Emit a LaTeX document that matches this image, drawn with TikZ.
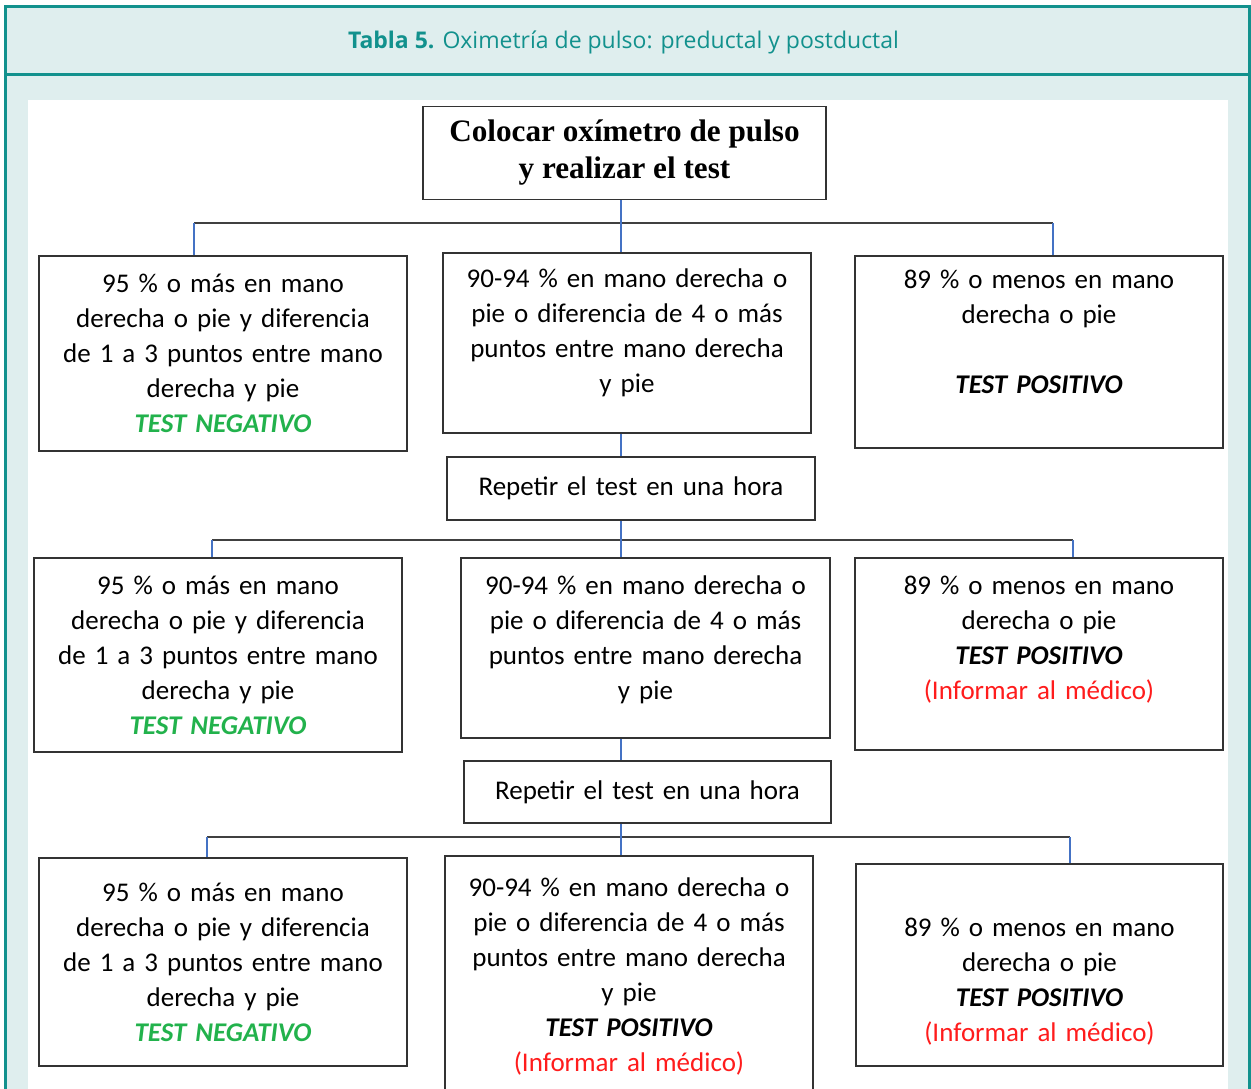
\documentclass[tikz,border=0pt]{standalone}
\usepackage{fontspec}
\setmainfont{Carlito}
\newfontfamily\headfont{Open Sans}
\newfontfamily\serifhead{Liberation Serif}

\definecolor{tealline}{HTML}{12918D}
\definecolor{tealback}{HTML}{DFEEEE}
\definecolor{linkblue}{HTML}{4472C4}
\definecolor{linkgray}{HTML}{404040}
\definecolor{negreen}{HTML}{22B24C}
\definecolor{posred}{HTML}{FF1C1C}

\newcommand{\padlow}[1]{\rule[-#1]{0pt}{#1}}
\newcommand{\padtop}[1]{\rule{0pt}{#1}}
\newcommand{\negtest}{\textcolor{negreen}{\textbf{\textit{TEST NEGATIVO}}}}
\newcommand{\postest}{\textbf{\textit{TEST POSITIVO}}}
\newcommand{\informar}{\textcolor{posred}{(Informar al médico)}}

\begin{document}
\begin{tikzpicture}[x=1pt, y=-1pt,
    box/.style={draw=black!80, line width=1.5pt, fill=white, text width=364pt,
                align=center, inner sep=0pt, minimum width=368pt,
                font=\fontsize{27}{35}\selectfont},
    repbox/.style={box, minimum height=63pt},
    hlink/.style={draw=linkgray, line width=1.6pt},
    vlink/.style={draw=linkblue, line width=1.6pt}]

\useasboundingbox (0,0) rectangle (1251,1088);

% frame and header
\fill[tealback] (5,6) rectangle (1249.5,1095);
\fill[white] (27.5,100) rectangle (1228,1095);
\draw[tealline, line width=3pt] (5,1095) -- (5,6) -- (1249.5,6) -- (1249.5,1095);
\draw[tealline, line width=3pt] (5,74.5) -- (1249.5,74.5);
\node[font=\headfont\fontsize{23}{27}\selectfont, text=tealline] (title) at (623.5,42)
    {\textbf{Tabla 5.} Oximetría de pulso: preductal y postductal};

% start
\node[draw=black!80, line width=1.5pt, fill=white, minimum width=403pt, minimum height=93pt,
      align=center, inner sep=0pt, font=\serifhead\bfseries\fontsize{31.2}{37}\selectfont]
    (start) at (624.5,153) {Colocar oxímetro de pulso\\ y realizar el test};

% first reading
\node[box, minimum height=195pt] (a1) at (223,353.5)
    {95 \% o más en mano\\ derecha o pie y diferencia\\ de 1 a 3 puntos entre mano\\ derecha y pie\\ \negtest};
\node[box, minimum height=180pt] (b1) at (627,343)
    {90-94 \% en mano derecha o\\ pie o diferencia de 4 o más\\ puntos entre mano derecha\\ y pie\padlow{24pt}};
\node[box, minimum height=192pt] (c1) at (1039,352)
    {89 \% o menos en mano\\ derecha o pie\\[35pt] \postest\padlow{40pt}};
\node[repbox] (r1) at (631,488.5) {Repetir el test en una hora};

% second reading
\node[box, minimum height=194pt] (a2) at (218,655)
    {95 \% o más en mano\\ derecha o pie y diferencia\\ de 1 a 3 puntos entre mano\\ derecha y pie\\ \negtest};
\node[box, minimum height=180pt, minimum width=369pt] (b2) at (645.5,648)
    {90-94 \% en mano derecha o\\ pie o diferencia de 4 o más\\ puntos entre mano derecha\\ y pie\padlow{21pt}};
\node[box, minimum height=192pt] (c2) at (1039,654)
    {89 \% o menos en mano\\ derecha o pie\\ \postest\\ \informar\padlow{33pt}};
\node[repbox, minimum height=62pt, minimum width=367pt] (r2) at (647.5,792) {Repetir el test en una hora};

% third reading
\node[box, minimum height=208pt] (a3) at (223,962)
    {95 \% o más en mano\\ derecha o pie y diferencia\\ de 1 a 3 puntos entre mano\\ derecha y pie\\ \negtest};
\node[box, minimum height=240pt] (b3) at (629,976)
    {90-94 \% en mano derecha o\\ pie o diferencia de 4 o más\\ puntos entre mano derecha\\ y pie\\ \postest\\ \informar};
\node[box, minimum height=202pt, minimum width=367pt] (c3) at (1039.5,965)
    {\padtop{51pt}89 \% o menos en mano\\ derecha o pie\\ \postest\\ \informar};

% branch points
\coordinate (m1) at (621,223);
\coordinate (l1) at (194,223);
\coordinate (k1) at (1053,223);
\coordinate (m2) at (621,540);
\coordinate (l2) at (212,540);
\coordinate (k2) at (1073,540);
\coordinate (m3) at (621,837);
\coordinate (l3) at (207,837);
\coordinate (k3) at (1070,837);

\draw[hlink] (l1) -- (k1);
\draw[hlink] (l2) -- (k2);
\draw[hlink] (l3) -- (k3);

\draw[vlink] (m1 |- start.south) -- (m1 |- b1.north);
\draw[vlink] (l1) -- (l1 |- a1.north);
\draw[vlink] (k1) -- (k1 |- c1.north);
\draw[vlink] (m1 |- b1.south) -- (m1 |- r1.north);

\draw[vlink] (m2 |- r1.south) -- (m2 |- b2.north);
\draw[vlink] (l2) -- (l2 |- a2.north);
\draw[vlink] (k2) -- (k2 |- c2.north);
\draw[vlink] (m2 |- b2.south) -- (m2 |- r2.north);

\draw[vlink] (m3 |- r2.south) -- (m3 |- b3.north);
\draw[vlink] (l3) -- (l3 |- a3.north);
\draw[vlink] (k3) -- (k3 |- c3.north);
\end{tikzpicture}
\end{document}
